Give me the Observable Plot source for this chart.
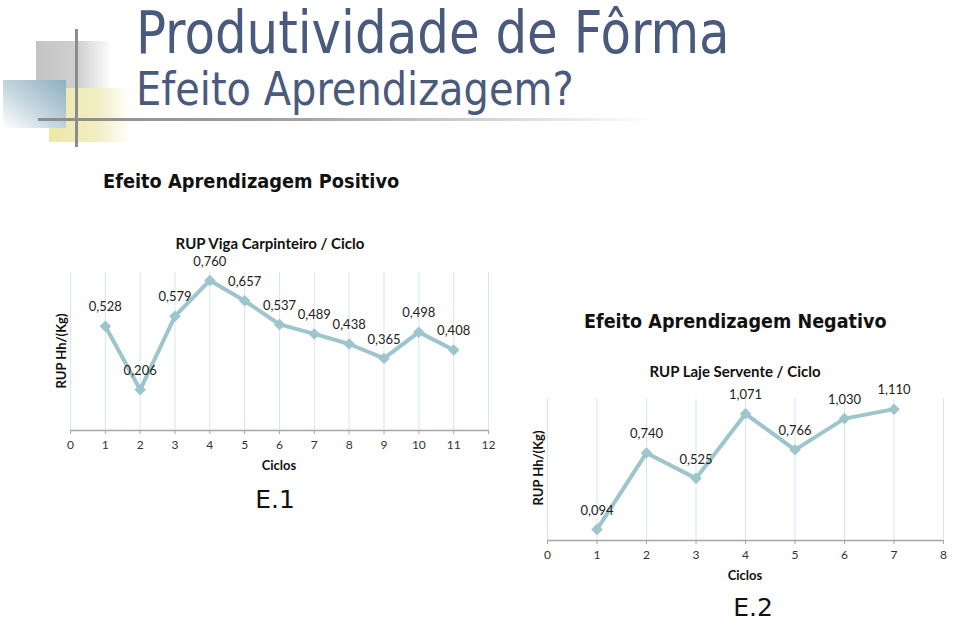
<!DOCTYPE html>
<html>
<head>
<meta charset="utf-8">
<script src="https://cdn.jsdelivr.net/npm/d3@7"></script>
<script src="https://cdn.jsdelivr.net/npm/@observablehq/plot@0.6"></script>
<style>
  html, body { margin: 0; padding: 0; background: #fff; }
  #page { position: relative; width: 960px; height: 623px; overflow: hidden; background: #fff; }
  .abs { position: absolute; white-space: nowrap; }
  .main { font-family: "DejaVu Sans Condensed", "DejaVu Sans", sans-serif; color: #4a5a7d; line-height: 1; transform-origin: left top; }
  .head { font-family: "DejaVu Sans", sans-serif; font-weight: bold; color: #111; line-height: 1; transform-origin: left top; }
  .ct { font-family: Lato, "Noto Sans", sans-serif; font-weight: bold; color: #111; font-size: 15px; line-height: 1; transform: translate(-50%, -50%); }
  .ylab { font-family: Lato, "Noto Sans", sans-serif; font-weight: bold; color: #111; font-size: 13px; line-height: 1; transform: translate(-50%, -50%) rotate(-90deg); }
  .xlab { font-family: Lato, "Noto Sans", sans-serif; font-weight: bold; color: #111; font-size: 13px; line-height: 1; transform: translate(-50%, -50%); }
  .eno { font-family: "DejaVu Sans", sans-serif; color: #111; font-size: 25px; line-height: 1.1; transform: translate(-50%, -50%); }
</style>
</head>
<body>
<div id="page">
  <!-- decoration -->
  <div class="abs" style="left:36px;top:41px;width:76px;height:47px;background:linear-gradient(to right,#c4c4c4 0%,#d0d0d0 55%,rgba(255,255,255,0) 100%);"></div>
  <div class="abs" style="left:49px;top:88px;width:82px;height:54px;background:linear-gradient(to right,#ece8a8 0%,#f1eec4 60%,rgba(255,255,255,0) 100%);"></div>
  <div class="abs" style="left:3px;top:80px;width:63px;height:48px;background:linear-gradient(to top right,#ffffff 0%,#c5d6df 45%,#8eafbf 100%);"></div>
  <div class="abs" style="left:75px;top:29px;width:3px;height:118px;background:#8c8c8c;"></div>
  <div class="abs" style="left:38px;top:118px;width:620px;height:3px;background:linear-gradient(to right,#8c8c8c 0%,#a0a0a0 40%,rgba(255,255,255,0) 100%);"></div>

  <div class="abs main" style="left:136px;top:4px;font-size:58px;transform:scaleX(0.956);">Produtividade de Fôrma</div>
  <div class="abs main" style="left:136px;top:66px;font-size:46px;transform:scaleX(0.965);">Efeito Aprendizagem?</div>
  <div class="abs head" style="left:103px;top:171px;font-size:20px;transform:scaleX(0.89);">Efeito Aprendizagem Positivo</div>
  <div class="abs head" style="left:584px;top:311px;font-size:20px;transform:scaleX(0.88);">Efeito Aprendizagem Negativo</div>

  <div class="abs ct" style="left:270px;top:243px;">RUP Viga Carpinteiro / Ciclo</div>
  <div class="abs ct" style="left:735px;top:371px;">RUP Laje Servente / Ciclo</div>
  <div class="abs ylab" style="left:61px;top:351px;">RUP Hh/(Kg)</div>
  <div class="abs ylab" style="left:538px;top:468px;">RUP Hh/(Kg)</div>
  <div class="abs xlab" style="left:279px;top:465px;">Ciclos</div>
  <div class="abs xlab" style="left:745px;top:575px;">Ciclos</div>
  <div class="abs eno" style="left:275px;top:500px;">E.1</div>
  <div class="abs eno" style="left:753px;top:608px;">E.2</div>

  <div class="abs" id="c1" style="left:40px;top:230px;"></div>
  <div class="abs" id="c2" style="left:520px;top:370px;"></div>
</div>
<script>
// Chart E.1 data
const ciclos1 = [1, 2, 3, 4, 5, 6, 7, 8, 9, 10, 11];
const rup1 = [0.528, 0.206, 0.579, 0.760, 0.657, 0.537, 0.489, 0.438, 0.365, 0.498, 0.408];
const xTicks1 = [0, 1, 2, 3, 4, 5, 6, 7, 8, 9, 10, 11, 12];

// Chart E.2 data
const ciclos2 = [1, 2, 3, 4, 5, 6, 7];
const rup2 = [0.094, 0.740, 0.525, 1.071, 0.766, 1.030, 1.110];
const xTicks2 = [0, 1, 2, 3, 4, 5, 6, 7, 8];

const LINE = "#9dc5cc";
const GRID = "#d6e7eb";
const AXIS = "#a6a6a6";
const fmt = v => d3.format(".3f")(v).replace(".", ",");

function chart({xs, ys, ticks, yMax, width, height, ml, mr, mt, mb}) {
  const data = xs.map((x, i) => ({x, y: ys[i]}));
  const x0 = ticks[0], x1 = ticks[ticks.length - 1];
  return Plot.plot({
    width, height,
    marginLeft: ml, marginRight: mr, marginTop: mt, marginBottom: mb,
    style: {fontFamily: "Lato, 'Noto Sans', sans-serif", fontSize: "12px", color: "#333", background: "transparent", overflow: "visible"},
    x: {domain: [x0, x1], label: null},
    y: {domain: [0, yMax], axis: null},
    marks: [
      Plot.ruleX(ticks, {x: d => d, y1: 0, y2: yMax, stroke: GRID, strokeWidth: 1}),
      Plot.axisX({ticks, label: null, tickSize: 4, tickPadding: 6, stroke: AXIS, fill: "#333", fontSize: 12, tickFormat: d => String(d)}),
      Plot.ruleY([0], {stroke: AXIS, strokeWidth: 1.5}),
      Plot.line(data, {x: "x", y: "y", stroke: LINE, strokeWidth: 4, strokeLinejoin: "round"}),
      Plot.dot(data, {x: "x", y: "y", symbol: "square", rotate: 45, r: 4.6, fill: LINE, stroke: "none"}),
      Plot.text(data, {x: "x", y: "y", text: d => fmt(d.y), dy: -19, fontSize: 13, fill: "#222"})
    ]
  });
}

document.getElementById("c1").append(chart({
  xs: ciclos1, ys: rup1, ticks: xTicks1, yMax: 0.8,
  width: 480, height: 260, ml: 30, mr: 32, mt: 42, mb: 60
}));
document.getElementById("c2").append(chart({
  xs: ciclos2, ys: rup2, ticks: xTicks2, yMax: 1.2,
  width: 440, height: 230, ml: 27, mr: 17, mt: 28, mb: 60
}));
</script>
</body>
</html>
